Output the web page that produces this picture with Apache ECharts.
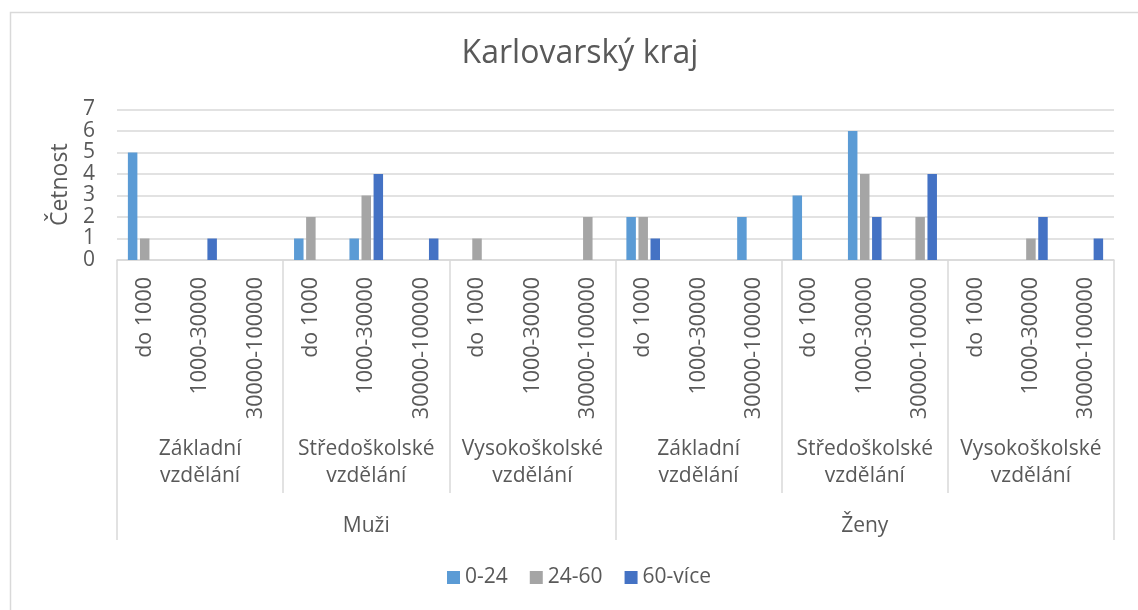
<!DOCTYPE html>
<html><head><meta charset="utf-8">
<script src="https://cdn.jsdelivr.net/npm/echarts@6/dist/echarts.min.js"></script>
<style>html,body{margin:0;padding:0;background:#fff}#c{width:1138px;height:610px}</style>
</head><body><div id="c"></div>
<script>
const chartTitle = 'Karlovarský kraj';
const yAxisName = 'Četnost';
const genders = ['Muži', 'Ženy'];
const educations = ['Základní\nvzdělání', 'Středoškolské\nvzdělání', 'Vysokoškolské\nvzdělání'];
const incomes = ['do 1000', '1000-30000', '30000-100000'];
const seriesNames = ['0-24', '24-60', '60-více'];
// order: Muži(Základní, Středoškolské, Vysokoškolské) then Ženy(...), each with 3 income levels
const vals0_24   = [5,0,0, 1,1,0, 0,0,0, 2,0,2, 3,6,0, 0,0,0];
const vals24_60  = [1,0,0, 2,3,0, 1,0,2, 2,0,0, 0,4,2, 0,1,0];
const vals60vice = [0,1,0, 0,4,1, 0,0,0, 1,0,0, 0,2,4, 0,2,1];
const yMin = 0, yMax = 7, yInterval = 1;

const colors = ['#5B9BD5', '#A5A5A5', '#4472C4'];
const FONT = '"Open Sans", "Noto Sans", sans-serif';
const TXT = '#595959';
const LINE = '#D9D9D9';

const leafCats = [], eduCats = [];
genders.forEach(g => educations.forEach(e => {
  eduCats.push(g + '|' + e);
  incomes.forEach(i => leafCats.push(g + '|' + e + '|' + i));
}));
const lastPart = s => s.split('|').pop();
const seriesData = [vals0_24, vals24_60, vals60vice];

const chart = echarts.init(document.getElementById('c'), null, {renderer: 'canvas'});
chart.setOption({
  animation: false,
  backgroundColor: '#fff',
  textStyle: {fontFamily: FONT},
  graphic: [{
    type: 'rect', left: 8, top: 10, silent: true,
    shape: {width: 1200, height: 700},
    style: {fill: 'none', stroke: LINE, lineWidth: 1.5}
  }],
  title: {
    text: chartTitle, left: 575, top: 33, textAlign: 'center',
    textStyle: {fontFamily: FONT, fontSize: 32, fontWeight: 'normal', color: TXT}
  },
  legend: {
    data: seriesNames, left: 442, top: 562, icon: 'rect',
    itemWidth: 13, itemHeight: 13, itemGap: 22,
    textStyle: {fontFamily: FONT, fontSize: 21, color: TXT}
  },
  grid: {left: 117, right: 24, top: 109.5, bottom: 350, containLabel: false},
  xAxis: [
    {
      type: 'category', data: leafCats, position: 'bottom',
      axisLine: {lineStyle: {color: LINE, width: 1.5}},
      axisTick: {show: false},
      axisLabel: {interval: 0, rotate: 90, margin: 17, fontSize: 21.5, color: TXT, fontFamily: FONT,
        formatter: lastPart}
    },
    {
      type: 'category', data: eduCats, position: 'bottom', offset: 233,
      axisLine: {show: false},
      axisTick: {show: true, inside: true, length: 233, interval: 0, lineStyle: {color: LINE, width: 1.5}},
      axisLabel: {interval: 0, inside: true, margin: 3, fontSize: 21, lineHeight: 27, color: TXT, fontFamily: FONT,
        formatter: lastPart}
    },
    {
      type: 'category', data: genders, position: 'bottom', offset: 280,
      axisLine: {show: false},
      axisTick: {show: true, inside: true, length: 280, interval: 0, lineStyle: {color: LINE, width: 1.5}},
      axisLabel: {interval: 0, inside: true, margin: 3, fontSize: 21, color: TXT, fontFamily: FONT}
    }
  ],
  yAxis: {
    type: 'value', min: yMin, max: yMax, interval: yInterval,
    name: yAxisName, nameLocation: 'middle', nameGap: 44, nameRotate: 90,
    nameTextStyle: {fontSize: 23, color: TXT, fontFamily: FONT},
    axisLine: {show: false}, axisTick: {show: false},
    axisLabel: {fontSize: 21, color: TXT, margin: 22, fontFamily: FONT},
    splitLine: {lineStyle: {color: LINE, width: 1.5}}
  },
  series: seriesNames.map((n, k) => ({
    name: n, type: 'bar', xAxisIndex: 0, data: seriesData[k],
    barWidth: 9.5, barGap: '27%',
    itemStyle: {color: colors[k]}
  }))
});
</script></body></html>
